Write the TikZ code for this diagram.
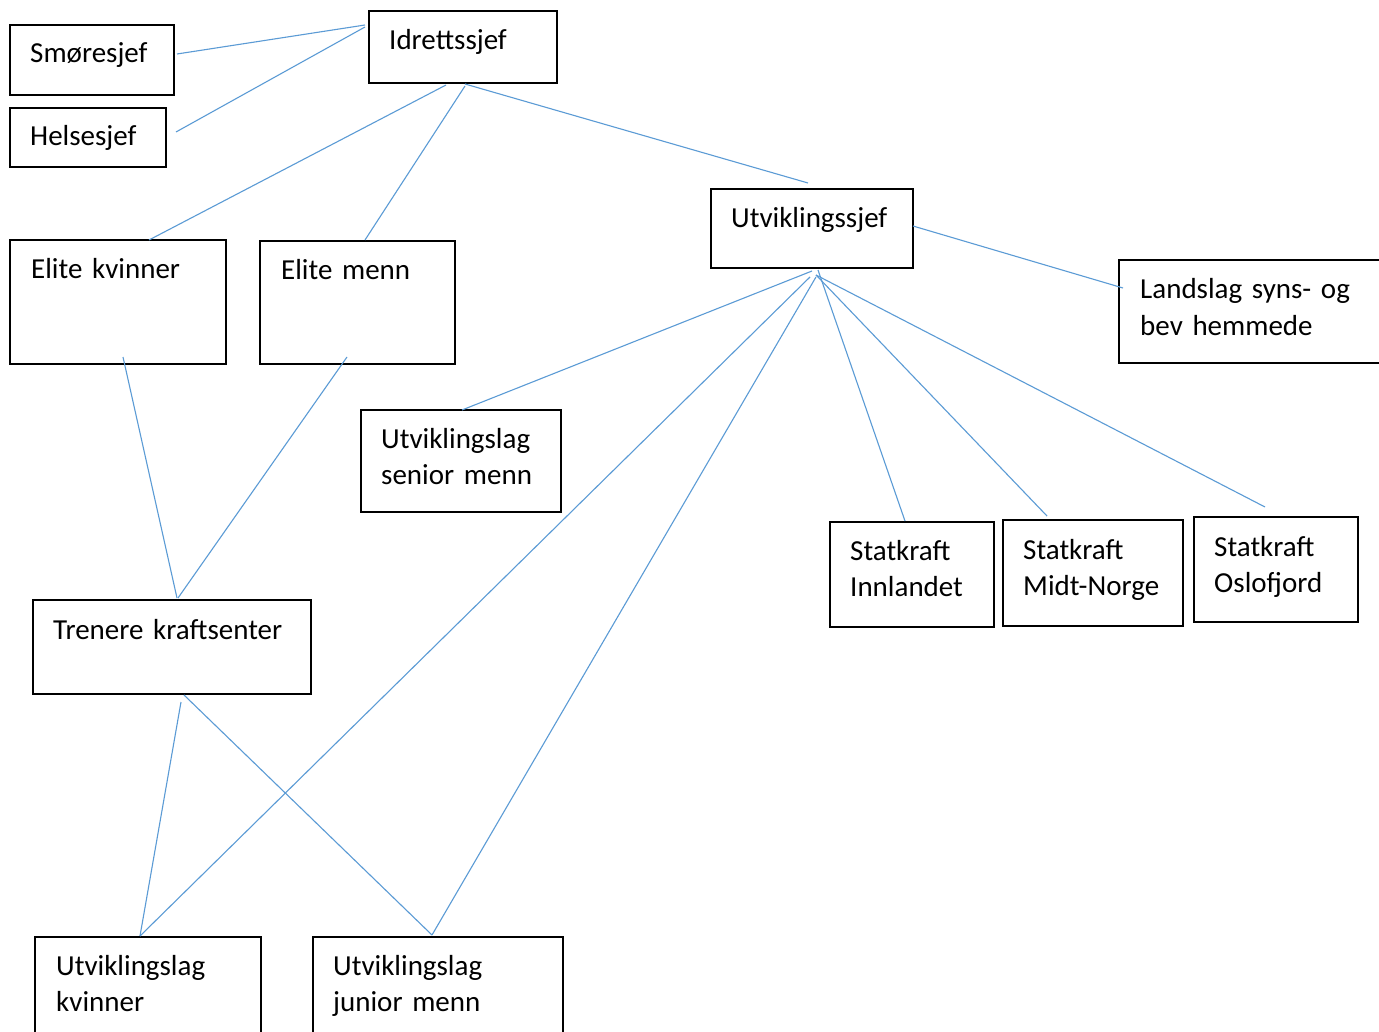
\documentclass[tikz,border=0pt]{standalone}
\usepackage{fontspec}
\setmainfont{Carlito}
\definecolor{lnblue}{HTML}{5B9BD5}
\begin{document}
\begin{tikzpicture}[x=1pt,y=-1pt,
  box/.style={draw=black, line width=1.6pt, inner sep=0pt},
  lbl/.style={anchor=base west, inner sep=0pt, text width=320pt, align=left, font=\fontsize{29}{36}\selectfont},
  conn/.style={draw=lnblue, line width=1.1pt}]
\useasboundingbox (0,0) rectangle (1379,1032);
\clip (0,0) rectangle (1379,1032);
\fill[white] (0,0) rectangle (1379,1032);

% boxes
\node[box, minimum width=164pt, minimum height=70pt] (smor) at (92,60) {};
\node[box, minimum width=156pt, minimum height=59pt] (hels) at (88,137.5) {};
\node[box, minimum width=188pt, minimum height=72pt] (idr) at (463,47) {};
\node[box, minimum width=216pt, minimum height=124pt] (ek) at (118,302) {};
\node[box, minimum width=195pt, minimum height=123pt] (em) at (357.5,302.5) {};
\node[box, minimum width=202pt, minimum height=79pt] (utv) at (812,228.5) {};
\node[box, minimum width=281pt, minimum height=103pt] (land) at (1259.5,311.5) {};
\node[box, minimum width=200pt, minimum height=102pt] (usm) at (461,461) {};
\node[box, minimum width=164pt, minimum height=105pt] (si) at (912,574.5) {};
\node[box, minimum width=180pt, minimum height=106pt] (smn) at (1093,573) {};
\node[box, minimum width=164pt, minimum height=105pt] (so) at (1276,569.5) {};
\node[box, minimum width=278pt, minimum height=94pt] (tk) at (172,647) {};
\node[box, minimum width=226pt, minimum height=123pt] (uk) at (148,998.5) {};
\node[box, minimum width=250pt, minimum height=123pt] (ujm) at (438,998.5) {};

% labels
\node[lbl] (tsmor) at (30,63) {Smøresjef};
\node[lbl] (thels) at (30,146) {Helsesjef};
\node[lbl] (tidr) at (389,50) {Idrettssjef};
\node[lbl] (tek) at (31,279) {Elite kvinner};
\node[lbl] (tem) at (281,280) {Elite menn};
\node[lbl] (tutv) at (731,228) {Utviklingssjef};
\node[lbl] (tland) at (1140,299) {Landslag syns- og\\bev hemmede};
\node[lbl] (tusm) at (381,448) {Utviklingslag\\senior menn};
\node[lbl] (tsi) at (850,560) {Statkraft\\Innlandet};
\node[lbl] (tsmn) at (1023,559) {Statkraft\\Midt-Norge};
\node[lbl] (tso) at (1214,556) {Statkraft\\Oslofjord};
\node[lbl] (ttk) at (53,639) {Trenere kraftsenter};
\node[lbl] (tuk) at (56,975) {Utviklingslag\\kvinner};
\node[lbl] (tujm) at (333,975) {Utviklingslag\\junior menn};

% connector end points
\coordinate (smorR) at (177,54);
\coordinate (helsR) at (176,132);
\coordinate (idrA) at (365,25);
\coordinate (idrB) at (365,27);
\coordinate (idrC) at (446,85);
\coordinate (idrD) at (465,86);
\coordinate (idrE) at (465,84);
\coordinate (ekT) at (149,240);
\coordinate (emT) at (365,240);
\coordinate (utvT) at (808,183);
\coordinate (utvR) at (913,226);
\coordinate (landL) at (1123,288);
\coordinate (utvA) at (812,271);
\coordinate (utvB) at (810,277);
\coordinate (utvC) at (816,277);
\coordinate (utvD) at (818,270);
\coordinate (utvE) at (816,275);
\coordinate (usmT) at (462,410);
\coordinate (ukT) at (140,936);
\coordinate (ujmT) at (432,935);
\coordinate (siT) at (905,521);
\coordinate (smnT) at (1047,516);
\coordinate (soT) at (1265,507);
\coordinate (ekB) at (123,357);
\coordinate (emB) at (347,357);
\coordinate (tkT) at (177,598);
\coordinate (tkT2) at (178,598);
\coordinate (tkB) at (181,702);
\coordinate (tkB2) at (184,695);

% connectors
\draw[conn] (smorR) -- (idrA);
\draw[conn] (helsR) -- (idrB);
\draw[conn] (idrC) -- (ekT);
\draw[conn] (idrD) -- (emT);
\draw[conn] (idrE) -- (utvT);
\draw[conn] (utvR) -- (landL);
\draw[conn] (utvA) -- (usmT);
\draw[conn] (utvB) -- (ukT);
\draw[conn] (utvC) -- (ujmT);
\draw[conn] (utvD) -- (siT);
\draw[conn] (utvE) -- (smnT);
\draw[conn] (utvE) -- (soT);
\draw[conn] (ekB) -- (tkT);
\draw[conn] (emB) -- (tkT2);
\draw[conn] (tkB) -- (ukT);
\draw[conn] (tkB2) -- (ujmT);
\end{tikzpicture}
\end{document}
